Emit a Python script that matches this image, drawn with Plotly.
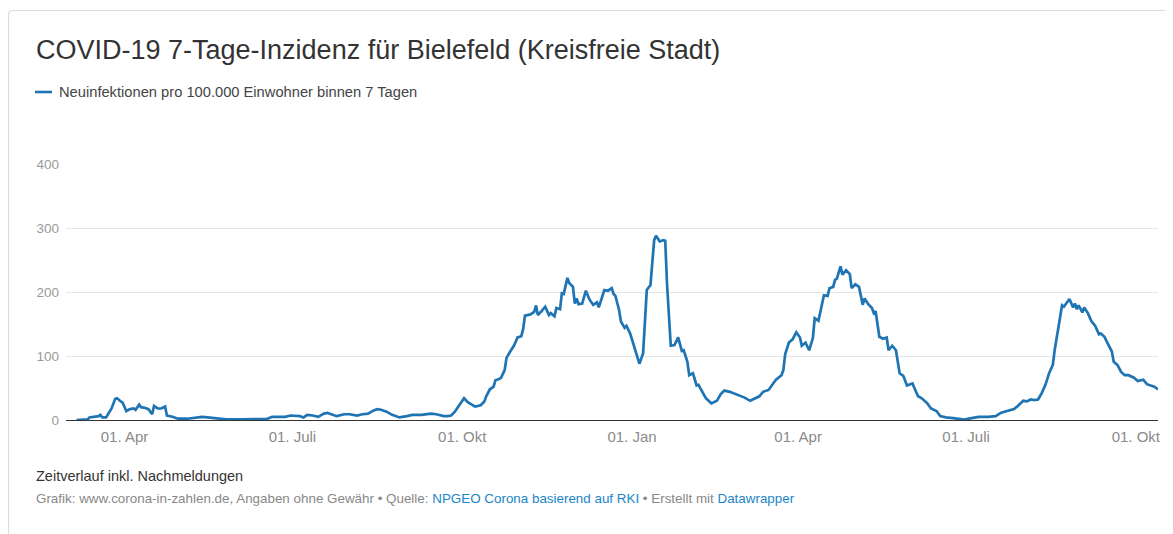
import plotly.graph_objects as go

# ---- data ----
dates = [
    "2020-03-06", "2020-03-12", "2020-03-13", "2020-03-16", "2020-03-18", "2020-03-19", "2020-03-20",
    "2020-03-22", "2020-03-24", "2020-03-25", "2020-03-27", "2020-03-28", "2020-03-30", "2020-03-31",
    "2020-04-02", "2020-04-04", "2020-04-06", "2020-04-07", "2020-04-09", "2020-04-10", "2020-04-12",
    "2020-04-14", "2020-04-16", "2020-04-17", "2020-04-19", "2020-04-21", "2020-04-23", "2020-04-24",
    "2020-04-27", "2020-04-30", "2020-05-05", "2020-05-08", "2020-05-13", "2020-05-16", "2020-05-21",
    "2020-05-26", "2020-06-03", "2020-06-10", "2020-06-17", "2020-06-20", "2020-06-24", "2020-06-27",
    "2020-06-30", "2020-07-02", "2020-07-05", "2020-07-07", "2020-07-09", "2020-07-12", "2020-07-15",
    "2020-07-18", "2020-07-20", "2020-07-25", "2020-07-29", "2020-08-01", "2020-08-05", "2020-08-08",
    "2020-08-11", "2020-08-14", "2020-08-16", "2020-08-18", "2020-08-21", "2020-08-24", "2020-08-28",
    "2020-09-01", "2020-09-04", "2020-09-09", "2020-09-12", "2020-09-14", "2020-09-17", "2020-09-21",
    "2020-09-23", "2020-09-25", "2020-09-27", "2020-09-29", "2020-10-02", "2020-10-04", "2020-10-08",
    "2020-10-11", "2020-10-13", "2020-10-14", "2020-10-16", "2020-10-18", "2020-10-19", "2020-10-21",
    "2020-10-22", "2020-10-24", "2020-10-25", "2020-10-27", "2020-10-29", "2020-10-31", "2020-11-02",
    "2020-11-03", "2020-11-04", "2020-11-07", "2020-11-09", "2020-11-10", "2020-11-11", "2020-11-13",
    "2020-11-15", "2020-11-17", "2020-11-18", "2020-11-20", "2020-11-21", "2020-11-23", "2020-11-24",
    "2020-11-25", "2020-11-27", "2020-11-28", "2020-11-30", "2020-12-01", "2020-12-02", "2020-12-03",
    "2020-12-05", "2020-12-07", "2020-12-09", "2020-12-11", "2020-12-13", "2020-12-14", "2020-12-16",
    "2020-12-17", "2020-12-19", "2020-12-21", "2020-12-22", "2020-12-23", "2020-12-25", "2020-12-26",
    "2020-12-28", "2020-12-29", "2020-12-31", "2021-01-02", "2021-01-04", "2021-01-05", "2021-01-07",
    "2021-01-08", "2021-01-09", "2021-01-11", "2021-01-12", "2021-01-13", "2021-01-14", "2021-01-16",
    "2021-01-18", "2021-01-19", "2021-01-20", "2021-01-21", "2021-01-22", "2021-01-24", "2021-01-26",
    "2021-01-28", "2021-01-29", "2021-01-31", "2021-02-01", "2021-02-03", "2021-02-05", "2021-02-06",
    "2021-02-08", "2021-02-10", "2021-02-13", "2021-02-16", "2021-02-18", "2021-02-20", "2021-02-23",
    "2021-02-26", "2021-03-01", "2021-03-03", "2021-03-06", "2021-03-09", "2021-03-11", "2021-03-13",
    "2021-03-16", "2021-03-18", "2021-03-20", "2021-03-23", "2021-03-24", "2021-03-25", "2021-03-27",
    "2021-03-29", "2021-03-31", "2021-04-02", "2021-04-03", "2021-04-05", "2021-04-07", "2021-04-09",
    "2021-04-10", "2021-04-12", "2021-04-13", "2021-04-15", "2021-04-17", "2021-04-18", "2021-04-20",
    "2021-04-21", "2021-04-22", "2021-04-24", "2021-04-25", "2021-04-27", "2021-04-29", "2021-04-30",
    "2021-05-02", "2021-05-04", "2021-05-06", "2021-05-07", "2021-05-09", "2021-05-11", "2021-05-12",
    "2021-05-13", "2021-05-15", "2021-05-17", "2021-05-19", "2021-05-20", "2021-05-22", "2021-05-24",
    "2021-05-26", "2021-05-28", "2021-05-30", "2021-06-02", "2021-06-03", "2021-06-05", "2021-06-07",
    "2021-06-10", "2021-06-12", "2021-06-15", "2021-06-17", "2021-06-20", "2021-06-24", "2021-06-29",
    "2021-06-30", "2021-07-04", "2021-07-08", "2021-07-13", "2021-07-17", "2021-07-20", "2021-07-24",
    "2021-07-27", "2021-07-29", "2021-08-01", "2021-08-03", "2021-08-05", "2021-08-07", "2021-08-09",
    "2021-08-11", "2021-08-13", "2021-08-15", "2021-08-17", "2021-08-18", "2021-08-20", "2021-08-22",
    "2021-08-23", "2021-08-25", "2021-08-26", "2021-08-28", "2021-08-29", "2021-08-30", "2021-08-31",
    "2021-09-02", "2021-09-03", "2021-09-05", "2021-09-07", "2021-09-09", "2021-09-11", "2021-09-12",
    "2021-09-14", "2021-09-16", "2021-09-18", "2021-09-19", "2021-09-21", "2021-09-23", "2021-09-25",
    "2021-09-27", "2021-09-30", "2021-10-02", "2021-10-05", "2021-10-07", "2021-10-10", "2021-10-11",
    "2021-10-13",
]
incidence = [
    0, 1, 4, 5, 6, 8, 4,
    4, 14, 18, 33, 34, 29, 27,
    14, 17, 18, 16, 24, 20, 19,
    17, 9, 22, 18, 18, 21, 7,
    5, 2, 2, 3, 5, 4, 2,
    1, 1, 1.5, 1.5, 5, 5, 5,
    7, 7, 6, 4, 8, 7, 5,
    10, 11, 6, 9, 9, 7, 9,
    10, 15, 17, 16, 13, 8, 4,
    6, 8, 8, 9, 10, 9, 6,
    6, 7, 13, 21, 34, 28, 21,
    23, 29, 37, 48, 52, 62, 64,
    66, 78, 97, 107, 116, 129, 131,
    142, 163, 165, 169, 179, 164, 170,
    177, 164, 167, 162, 175, 173, 198,
    197, 222, 214, 208, 182, 190, 181,
    182, 202, 188, 180, 184, 176, 195,
    203, 202, 206, 197, 194, 172, 154,
    144, 147, 135, 115, 94, 88, 104,
    148, 203, 211, 242, 281, 288, 279,
    281, 280, 211, 164, 116, 117, 129,
    108, 109, 91, 70, 73, 54, 55,
    44, 34, 26, 30, 40, 46, 44,
    41, 37, 35, 30, 34, 37, 44,
    47, 55, 63, 70, 78, 103, 121,
    126, 137, 129, 116, 121, 109, 128,
    159, 155, 167, 195, 194, 206, 208,
    219, 221, 240, 227, 234, 228, 206,
    212, 208, 180, 190, 181, 175, 167,
    170, 130, 127, 129, 109, 116, 109,
    73, 69, 54, 57, 50, 37, 34,
    26, 18, 14, 6, 4, 3, 1.5,
    0.5, 3, 5, 5, 6, 11.5, 14,
    17, 22, 30, 29, 32, 31, 32,
    42, 55, 73, 86, 109, 146, 179,
    177, 185, 189, 176, 182, 173, 179,
    168, 176, 167, 154, 147, 134, 135,
    130, 118, 107, 91, 86, 75, 70,
    70, 66, 61, 63, 56, 53, 52,
    48,
]
tick_dates = ["2020-04-01", "2020-07-01", "2020-10-01", "2021-01-01",
              "2021-04-01", "2021-07-01", "2021-10-01"]
tick_labels = ["01. Apr", "01. Juli", "01. Okt", "01. Jan", "01. Apr", "01. Juli", "01. Okt"]
y_ticks = [0, 100, 200, 300, 400]

title = "COVID-19 7-Tage-Inzidenz für Bielefeld (Kreisfreie Stadt)"
series_name = "Neuinfektionen pro 100.000 Einwohner binnen 7 Tagen"
note = "Zeitverlauf inkl. Nachmeldungen"

LINE = "#1f74b4"
FONT = "Liberation Sans, Arial, Helvetica, sans-serif"

# the page body has an 8px margin; positions below are given in window pixels
OFF = 8
W, H = 1173 - OFF, 534 - OFF
X0, X1, Y0, Y1 = 66, 1158, 164, 420          # plot area in window pixels
L, R, T, B = X0 - OFF, W - (X1 - OFF), Y0 - OFF, H - (Y1 - OFF)
PW, PH = X1 - X0, Y1 - Y0


def px(xp):
    return (xp - X0) / PW


def py(yp):
    return (Y1 - yp) / PH


fig = go.Figure()
fig.add_trace(go.Scatter(
    x=dates, y=incidence, mode="lines", name=series_name,
    line=dict(color=LINE, width=2.7), showlegend=False, hoverinfo="x+y",
))

fig.update_layout(
    width=W, height=H,
    margin=dict(l=L, r=R, t=T, b=B),
    paper_bgcolor="white", plot_bgcolor="white",
    font=dict(family=FONT, color="#333333"),
    xaxis=dict(
        type="date", range=["2020-02-29 07:30", "2021-10-13"],
        tickvals=tick_dates, ticktext=tick_labels,
        showgrid=False, zeroline=False,
        showline=True, linecolor="#333333", linewidth=1,
        ticks="", ticklabelstandoff=3,
        tickfont=dict(size=15, color="#8a8a8a"),
    ),
    yaxis=dict(
        range=[0, 400], tickvals=y_ticks,
        showgrid=True, gridcolor="#e6e6e6", gridwidth=1,
        zeroline=False, showline=False, ticks="", ticklabelstandoff=6,
        tickfont=dict(size=13.5, color="#9a9a9a"),
    ),
    shapes=[
        # card border
        dict(type="path", xref="paper", yref="paper",
             path=(f"M {px(8.5)},{py(560)} L {px(8.5)},{py(15)} "
                   f"Q {px(8.5)},{py(10.5)} {px(13)},{py(10.5)} L {px(1200)},{py(10.5)}"),
             line=dict(color="#dcdcdc", width=1.2), layer="below"),
        # legend swatch
        dict(type="line", xref="paper", yref="paper",
             x0=px(35), x1=px(52), y0=py(92), y1=py(92),
             line=dict(color=LINE, width=2.6)),
    ],
    annotations=[
        dict(text=title, xref="paper", yref="paper", x=px(34), y=py(50),
             xanchor="left", yanchor="middle", showarrow=False,
             font=dict(size=27, color="#333333")),
        dict(text=series_name, xref="paper", yref="paper", x=px(57), y=py(92),
             xanchor="left", yanchor="middle", showarrow=False,
             font=dict(size=14.7, color="#444444")),
        dict(text=note, xref="paper", yref="paper", x=px(34), y=py(476),
             xanchor="left", yanchor="middle", showarrow=False,
             font=dict(size=14.5, color="#333333")),
        dict(text=("Grafik: www.corona-in-zahlen.de, Angaben ohne Gewähr • Quelle: "
                   "<span style='color:#1a85c8'>NPGEO Corona basierend auf RKI</span>"
                   " • Erstellt mit <span style='color:#1a85c8'>Datawrapper</span>"),
             xref="paper", yref="paper", x=px(34), y=py(498),
             xanchor="left", yanchor="middle", showarrow=False,
             font=dict(size=13.4, color="#888888")),
    ],
)

fig.write_html("out.html")
